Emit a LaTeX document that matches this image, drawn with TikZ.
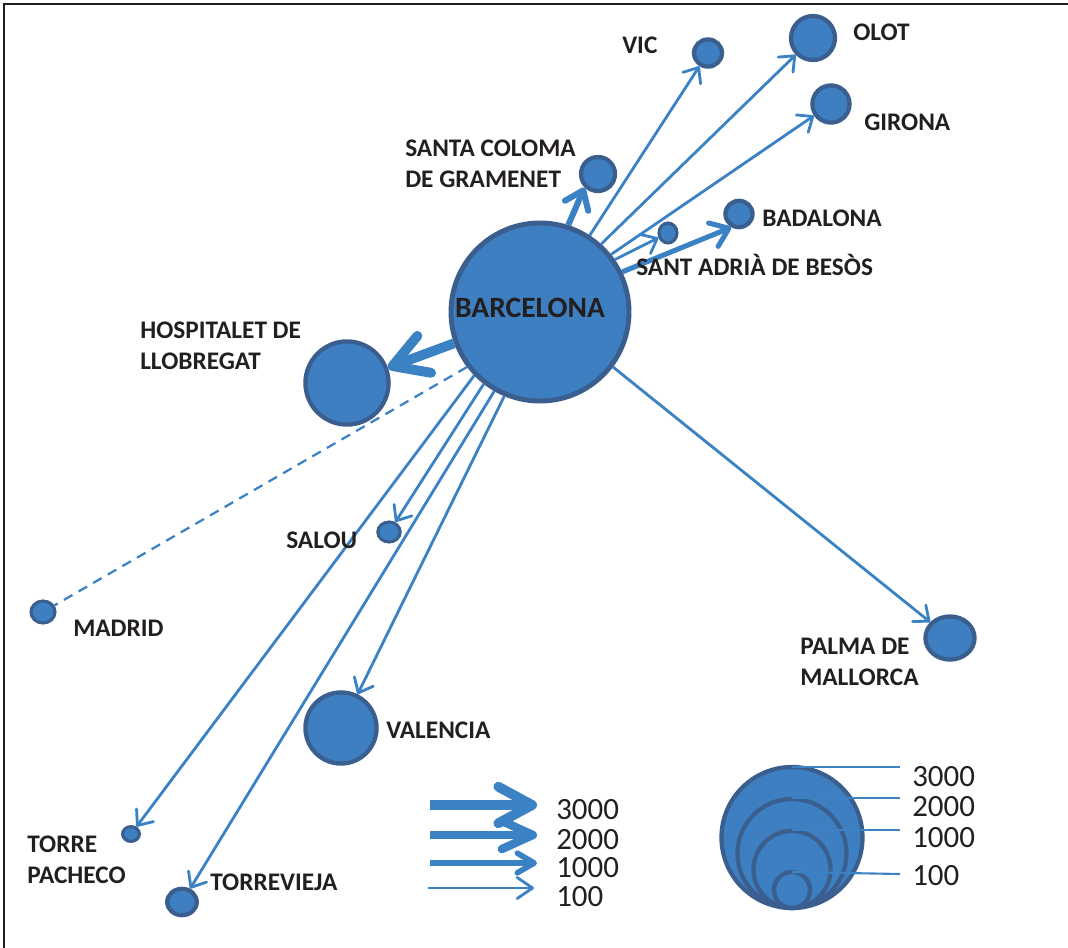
\documentclass[tikz,border=0pt]{standalone}
\usepackage{fontspec}
\setmainfont{Carlito}
\usetikzlibrary{arrows.meta,shapes.geometric}
\definecolor{cityfill}{RGB}{61,127,193}
\definecolor{cityedge}{RGB}{58,94,142}
\definecolor{flowline}{RGB}{59,130,197}
\definecolor{inkblack}{RGB}{35,31,32}
\tikzset{
  city/.style={ellipse, draw=cityedge, fill=cityfill, line width=3pt, inner sep=0pt},
  lbl/.style={font=\fontsize{18}{22}\selectfont\bfseries, text=inkblack, inner sep=0pt, anchor=west, align=left},
  num/.style={font=\fontsize{22}{26}\selectfont, text=inkblack, inner sep=0pt, anchor=west},
  flow/.style={draw=flowline, line width=2pt, -{Straight Barb[length=9pt,width=15pt,round]}},
}

\begin{document}
\begin{tikzpicture}[x=0.025cm, y=-0.025cm]
		\useasboundingbox (0,0) rectangle (1068,948);
		%%%%% START %%%%%
		
		\draw[inkblack, line width=1.5pt] (4,948) -- (4,4) -- (1068,4);
		
		\node[city, minimum size=4.45cm, line width=3.5pt] (bcn) at (540,312) {};
		\node[city, minimum size=2.08cm] (hosp) at (347,383) {};
		\node[city, minimum size=0.85cm] (sc) at (598,174) {};
		\node[city, minimum width=0.7cm, minimum height=0.68cm] (vic) at (708,53) {};
		\node[city, minimum size=1.1cm] (olot) at (813,38) {};
		\node[city, minimum size=0.93cm] (gir) at (831,104) {};
		\node[city, minimum width=0.68cm, minimum height=0.66cm] (bad) at (739,214) {};
		\node[city, minimum width=0.45cm, minimum height=0.5cm, line width=2.2pt] (adr) at (668,233) {};
		\node[city, minimum width=0.56cm, minimum height=0.5cm, line width=2.2pt] (sal) at (389,532) {};
		\node[city, minimum width=0.6cm, minimum height=0.55cm, line width=2.2pt] (mad) at (43,612) {};
		\node[city, minimum width=1.23cm, minimum height=1.08cm] (pal) at (950,638) {};
		\node[city, minimum size=1.78cm] (val) at (341,728) {};
		\node[city, minimum width=0.42cm, minimum height=0.37cm, line width=2.2pt] (tp) at (131,834) {};
		\node[city, minimum width=0.74cm, minimum height=0.66cm] (trv) at (182,902) {};
		
		\draw[flow] (bcn.57) -- (vic);
		\draw[flow] (bcn.48) -- (olot);
		\draw[flow] (bcn.39) -- (gir);
		\draw[flow] (bcn.35) -- (adr);
		\draw[flow, line width=3.6pt, -{Straight Barb[length=12pt,width=18pt,round]}] (bcn.26) -- (bad.-120);
		\draw[flow, line width=4.3pt, -{Straight Barb[length=12pt,width=18pt,round]}] (bcn.72) -- (sc.-135);
		\draw[flow, line width=7pt, -{Straight Barb[length=24pt,width=28pt,round]}] (bcn.-160) -- (hosp);
		\draw[flowline, line width=1.6pt, dash pattern=on 7pt off 5pt] (bcn.-143) -- (mad);
		\draw[flow] (bcn.-136) -- (tp);
		\draw[flow] (bcn.-128) -- (sal);
		\draw[flow] (bcn.-120) -- (trv);
		\draw[flow] (bcn.-113) -- (val);
		\draw[flow] (bcn.-37) -- (pal);
		
		\node[lbl, anchor=center, font=\fontsize{21}{25}\selectfont\bfseries] (lbcn) at (530,308) {BARCELONA};
		\node[lbl] (lhosp) at (140,346) {HOSPITALET DE\\LLOBREGAT};
		\node[lbl] (lsc) at (405,164) {SANTA COLOMA\\DE GRAMENET};
		\node[lbl] (lvic) at (622,45) {VIC};
		\node[lbl] (lolot) at (853,32) {OLOT};
		\node[lbl] (lgir) at (864,122) {GIRONA};
		\node[lbl] (lbad) at (762,218) {BADALONA};
		\node[lbl] (ladr) at (636,265) {SANT ADRIÀ DE BESÒS};
		\node[lbl] (lsal) at (286,540) {SALOU};
		\node[lbl] (lmad) at (73,628) {MADRID};
		\node[lbl] (lpal) at (800,662) {PALMA DE\\MALLORCA};
		\node[lbl] (lval) at (386,730) {VALENCIA};
		\node[lbl] (ltp) at (27,860) {TORRE\\PACHECO};
		\node[lbl] (ltrv) at (210,882) {TORREVIEJA};
		
		%%%%% LEGEND %%%%%
		
		\draw[flowline, line width=7pt, -{Straight Barb[length=24pt,width=26pt,round]}] (430,805) -- (537,805);
		\draw[flowline, line width=6pt, -{Straight Barb[length=22pt,width=20pt,round]}] (430,835) -- (537,835);
		\draw[flowline, line width=4pt, -{Straight Barb[length=12pt,width=14pt,round]}] (430,863) -- (537,863);
		\draw[flowline, line width=2pt, -{Straight Barb[length=11pt,width=15pt,round]}] (428,888) -- (534,888);
		\node[num] (a3000) at (556,810) {3000};
		\node[num] (a2000) at (556,840) {2000};
		\node[num] (a1000) at (556,868) {1000};
		\node[num] (a100) at (556,897) {100};
		
		\draw[cityedge, fill=cityfill, line width=3pt] (792,837.5) circle (1.7625cm);
		\draw[cityedge, fill=cityfill, line width=3pt] (792,853.5) circle (1.3625cm);
		\draw[cityedge, fill=cityfill, line width=3pt] (792,869.5) circle (0.9625cm);
		\draw[cityedge, fill=cityfill, line width=3pt] (792,890) circle (0.45cm);
		\draw[flowline, line width=1.5pt] (792,767) -- (900,767);
		\draw[flowline, line width=1.5pt] (792,798) -- (900,798);
		\draw[flowline, line width=1.5pt] (792,830) -- (900,830);
		\draw[flowline, line width=1.5pt] (792,872) -- (900,874);
		\node[num] (c3000) at (912,777) {3000};
		\node[num] (c2000) at (912,807) {2000};
		\node[num] (c1000) at (912,838) {1000};
		\node[num] (c100) at (912,876) {100};
		
		%%%%% END %%%%%
	\end{tikzpicture}
\end{document}
